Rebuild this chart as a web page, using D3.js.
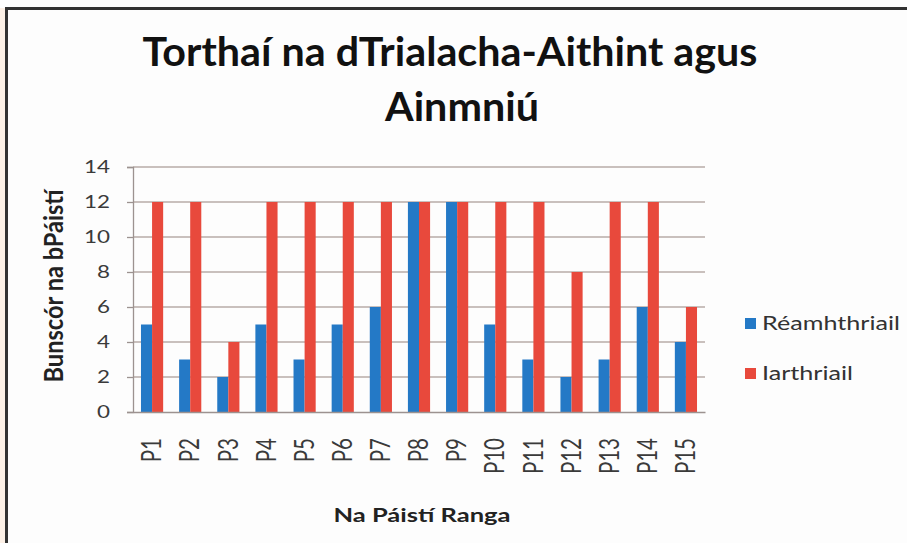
<!DOCTYPE html>
<html><head><meta charset="utf-8">
<script src="https://cdn.jsdelivr.net/npm/d3@7"></script>
<style>
html,body{margin:0;padding:0;background:#fff;}
svg{display:block;font-family:Lato,"Open Sans",sans-serif;}
</style></head>
<body>
<svg id="c" width="907" height="543"></svg>
<script>
const categories = ["P1","P2","P3","P4","P5","P6","P7","P8","P9","P10","P11","P12","P13","P14","P15"];
const seriesNames = ["Réamhthriail","Iarthriail"];
const preTest = [5,3,2,5,3,5,6,12,12,5,3,2,3,6,4];
const postTest = [12,12,4,12,12,12,12,12,12,12,12,8,12,12,6];
const yTicks = [0,2,4,6,8,10,12,14];
const titleLines = ["Torthaí na dTrialacha-Aithint agus","Ainmniú"];
const yTitle = "Bunscór na bPáistí";
const xTitle = "Na Páistí Ranga";
const colors = ["#2479c6","#e8493c"];

const SX = 1.28; // horizontal stretch of the reference picture

function stretch(sel, f){
  sel.each(function(){
    const w = this.getComputedTextLength();
    d3.select(this).attr("textLength", w*f).attr("lengthAdjust","spacingAndGlyphs");
  });
}

const svg = d3.select("#c");
svg.append("rect").attr("x",0).attr("y",0).attr("width",907).attr("height",543).attr("fill","#fdf1e7");
svg.append("rect").attr("x",0).attr("y",0).attr("width",907).attr("height",8).attr("fill","#ffffff");
svg.append("rect").attr("x",6.5).attr("y",8.5).attr("width",910).attr("height",545)
  .attr("fill","#fdfdfd").attr("stroke","#333").attr("stroke-width",3);

const m = {left:133, right:705, top:167, bottom:412};
const x = d3.scaleBand().domain(categories).range([m.left,m.right]).paddingInner(0).paddingOuter(0);
const xs = d3.scaleBand().domain([0,1]).range([0,x.bandwidth()]).paddingInner(0).paddingOuter(0.72);
const y = d3.scaleLinear().domain([0,14]).range([m.bottom,m.top]);

// gridlines
svg.append("g").selectAll("line").data(yTicks.filter(d=>d>0)).join("line")
  .attr("x1",m.left).attr("x2",m.right).attr("y1",d=>y(d)).attr("y2",d=>y(d))
  .attr("stroke","#b7aba7").attr("stroke-width",1.3);

// y axis
const yAxis = svg.append("g").attr("transform",`translate(${m.left},0)`)
  .call(d3.axisLeft(y).tickValues(yTicks).tickSize(6).tickPadding(17).tickFormat(d3.format("d")));
yAxis.select(".domain").attr("stroke","#9c9290").attr("stroke-width",1.3);
yAxis.selectAll(".tick line").attr("stroke","#9c9290").attr("stroke-width",1.3);
yAxis.selectAll("text").attr("font-size",17.5).attr("fill","#3a3a3a").attr("font-family","Lato,sans-serif");
stretch(yAxis.selectAll("text"), SX);

// bars
const data = categories.map((c,i)=>({c, v:[preTest[i],postTest[i]]}));
const groups = svg.append("g").selectAll("g").data(data).join("g")
  .attr("transform",d=>`translate(${x(d.c)},0)`);
groups.selectAll("rect").data(d=>d.v.map((v,k)=>({v,k}))).join("rect")
  .attr("x",d=>xs(d.k)).attr("width",xs.bandwidth())
  .attr("y",d=>y(d.v)).attr("height",d=>y(0)-y(d.v))
  .attr("fill",d=>colors[d.k]);

// x axis
const xAxis = svg.append("g").attr("transform",`translate(0,${m.bottom})`)
  .call(d3.axisBottom(x).tickSize(0).tickPadding(0));
xAxis.select(".domain").attr("stroke","#9c9290").attr("stroke-width",1.5);
xAxis.selectAll("text").attr("font-size",20.5).attr("fill","#3a3a3a").attr("font-family","Lato,sans-serif")
  .attr("transform",`translate(0,26) scale(${SX},1) rotate(-90)`).attr("text-anchor","end")
  .attr("dy","0.35em").attr("dx",0).attr("y",0).attr("x",0);

// title
const tt = svg.append("g");
const t1 = tt.append("text").attr("x",450).attr("y",66).attr("text-anchor","middle")
  .attr("font-weight","bold").attr("font-size",41).attr("fill","#111").text(titleLines[0]);
const tf = 615 / t1.node().getComputedTextLength();
t1.attr("textLength",615).attr("lengthAdjust","spacingAndGlyphs");
const t2 = tt.append("text").attr("x",462).attr("y",121).attr("text-anchor","middle")
  .attr("font-weight","bold").attr("font-size",41).attr("fill","#111").text(titleLines[1]);
stretch(t2, tf);

// axis titles
const yt = svg.append("text").attr("transform",`translate(63,286) scale(1.15,1) rotate(-90)`)
  .attr("text-anchor","middle").attr("font-weight","bold").attr("font-size",23.5).attr("fill","#222").text(yTitle);
yt.attr("textLength",193).attr("lengthAdjust","spacingAndGlyphs");
const xt = svg.append("text").attr("x",(m.left+m.right)/2+3).attr("y",522).attr("text-anchor","middle")
  .attr("font-weight","bold").attr("font-size",19.5).attr("fill","#222").text(xTitle);
xt.attr("textLength",177).attr("lengthAdjust","spacingAndGlyphs");

// legend
const lg = svg.append("g").selectAll("g").data(seriesNames).join("g")
  .attr("transform",(d,i)=>`translate(745,${318+i*50})`);
lg.append("rect").attr("width",11).attr("height",11).attr("fill",(d,i)=>colors[i]);
const lt = lg.append("text").attr("x",17).attr("y",12).attr("font-size",18.5).attr("fill","#333").text(d=>d);
const lf = 138 / lt.nodes()[0].getComputedTextLength();
stretch(lt, lf);
</script>
</body></html>
